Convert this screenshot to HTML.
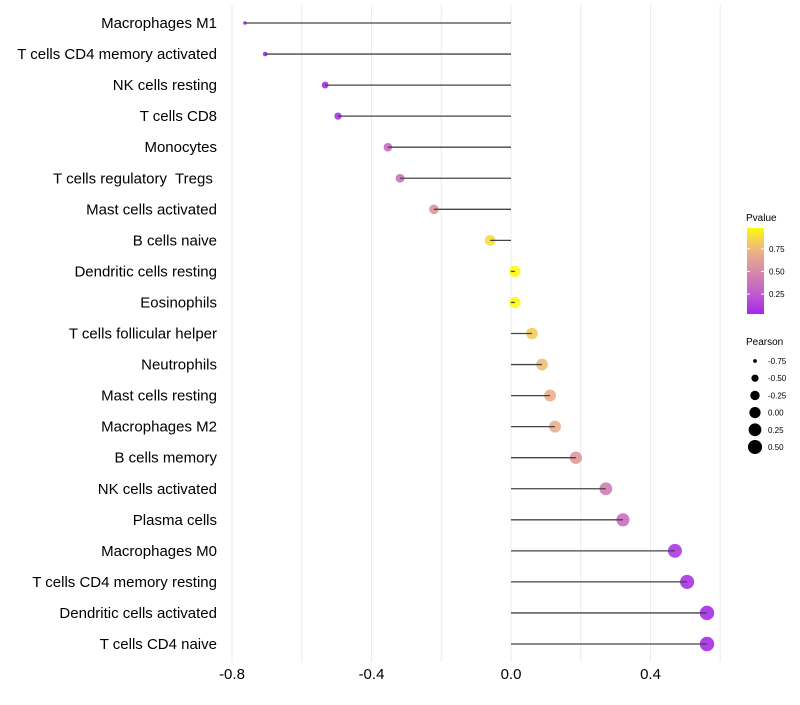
<!DOCTYPE html>
<html><head><meta charset="utf-8"><style>
body{margin:0;background:#fff;}
svg text{font-family:"Liberation Sans",sans-serif;white-space:pre;}
</style></head><body>
<svg id="chart" width="800" height="700"></svg>
<script>
const categories=["Macrophages M1","T cells CD4 memory activated","NK cells resting","T cells CD8","Monocytes","T cells regulatory  Tregs ","Mast cells activated","B cells naive","Dendritic cells resting","Eosinophils","T cells follicular helper","Neutrophils","Mast cells resting","Macrophages M2","B cells memory","NK cells activated","Plasma cells","Macrophages M0","T cells CD4 memory resting","Dendritic cells activated","T cells CD4 naive"];
const pearson=[-0.763,-0.705,-0.533,-0.496,-0.353,-0.318,-0.221,-0.060,0.011,0.011,0.060,0.089,0.112,0.126,0.186,0.272,0.321,0.470,0.505,0.562,0.562];
const pvalues=[0.01,0.02,0.06,0.07,0.32,0.36,0.56,0.88,0.98,0.98,0.82,0.77,0.7,0.7,0.58,0.42,0.35,0.1,0.08,0.05,0.05];
const xTicks=[-0.8,-0.4,0.0,0.4];
const xTickLabels=["-0.8","-0.4","0.0","0.4"];
const pTicks=[0.25,0.5,0.75];
const sizeLegend=[-0.75,-0.5,-0.25,0,0.25,0.5];

const NS="http://www.w3.org/2000/svg";
const svg=document.getElementById('chart');
function mk(t,a){const e=document.createElementNS(NS,t);for(const k in a)e.setAttribute(k,a[k]);svg.appendChild(e);return e;}
const xS=v=>511+v*348.75;
const yS=i=>23+i*31.05;
const rS=v=>Math.sqrt(2.9+(v+0.77)/1.33*(52-2.9));
const stops=[[0,[160,32,240]],[0.25,[192,92,208]],[0.5,[216,138,168]],[0.75,[238,184,128]],[1,[255,255,0]]];
function col(p){for(let i=1;i<stops.length;i++){if(p<=stops[i][0]){const a=stops[i-1],b=stops[i],t=(p-a[0])/(b[0]-a[0]);return 'rgb('+a[1].map((c,j)=>Math.round(c+(b[1][j]-c)*t)).join(',')+')';}}return 'rgb(255,255,0)';}

for(let v=-0.8;v<=0.61;v+=0.2){
 const g=mk('line',{x1:xS(v),x2:xS(v),y1:5,y2:662,stroke:'#ebebeb','stroke-width':1});
 
 
}
xTicks.forEach((v,i)=>{
 const t=mk('text',{x:xS(v),y:679,'text-anchor':'middle','font-size':15,fill:'#000'});
 t.textContent=xTickLabels[i];
 
 
});
categories.forEach((c,i)=>{
 const y=yS(i);
 const t=mk('text',{x:217,y:y+5,'text-anchor':'end','font-size':15,fill:'#000'});
 t.textContent=c;
 
 
 const d=mk('circle',{cx:xS(pearson[i]),cy:y,r:rS(pearson[i]),fill:col(pvalues[i]),'fill-opacity':0.9});
 
 
 const l=mk('line',{x1:xS(0),x2:xS(pearson[i]),y1:y,y2:y,stroke:'#444','stroke-width':1.3});
 
 
});
let tt=mk('text',{x:746,y:221,'font-size':10});tt.textContent='Pvalue';


const defs=mk('defs',{});
const lg=document.createElementNS(NS,'linearGradient');lg.setAttribute('id','pg');lg.setAttribute('x1',0);lg.setAttribute('y1',1);lg.setAttribute('x2',0);lg.setAttribute('y2',0);defs.appendChild(lg);
for(let k=0;k<=10;k++){const s=document.createElementNS(NS,'stop');s.setAttribute('offset',k/10);s.setAttribute('stop-color',col(0.03+k/10*0.95));lg.appendChild(s);}
const pb=mk('rect',{x:747,y:228,width:17,height:86,fill:'url(#pg)'});


const pY=p=>314-(p-0.03)/0.95*86;
pTicks.forEach(p=>{
 mk('line',{x1:747,x2:750,y1:pY(p),y2:pY(p),stroke:'#fff'});mk('line',{x1:761,x2:764,y1:pY(p),y2:pY(p),stroke:'#fff'});
 const t=mk('text',{x:769,y:pY(p)+3,'font-size':8});t.textContent=p.toFixed(2);
 
 
});
tt=mk('text',{x:746,y:345,'font-size':10});tt.textContent='Pearson';


sizeLegend.forEach((v,i)=>{
 const y=361+i*17.2;
 const c=mk('circle',{cx:755,cy:y,r:rS(v),fill:'#000'});
 
 
 const t=mk('text',{x:768,y:y+3,'font-size':8});t.textContent=v.toFixed(2);
 
 
});
</script>
</body></html>
